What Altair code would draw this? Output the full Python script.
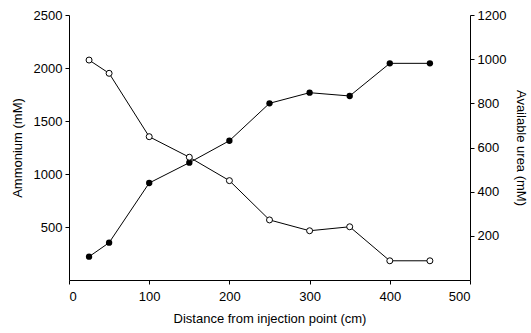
import altair as alt
import pandas as pd

distance = [25, 50, 100, 150, 200, 250, 300, 350, 400, 450]
ammonium = [220, 352, 915, 1107, 1314, 1667, 1767, 1736, 2044, 2044]
urea = [996, 936, 649, 556, 450, 272, 223, 241, 87, 87]

x_ticks = [0, 100, 200, 300, 400, 500]
left_ticks = [500, 1000, 1500, 2000, 2500]
right_ticks = [200, 400, 600, 800, 1000, 1200]

df = pd.DataFrame({"distance": distance, "ammonium": ammonium, "urea": urea})

FONT = "Liberation Sans"
FS = 13

common = dict(
    grid=False, format="d", domainColor="black", tickColor="black", tickSize=4,
    labelFontSize=FS, titleFontSize=FS, labelFont=FONT, titleFont=FONT,
    titleFontWeight="normal", labelColor="black", titleColor="black",
)

x_enc = alt.X(
    "distance:Q",
    scale=alt.Scale(domain=[0, 500], nice=False, zero=False),
    axis=alt.Axis(values=x_ticks, title="Distance from injection point (cm)",
                  labelPadding=6, titlePadding=9, **common),
)

base = alt.Chart(df)

amm_line = base.mark_line(color="black", strokeWidth=1).encode(
    x=x_enc,
    y=alt.Y(
        "ammonium:Q",
        scale=alt.Scale(domain=[0, 2500], nice=False),
        axis=alt.Axis(orient="left", values=left_ticks, title="Ammonium (mM)",
                      labelPadding=3, titlePadding=9, **common),
    ),
)
amm_pts = base.mark_point(filled=True, color="black", size=40, opacity=1).encode(
    x="distance:Q", y="ammonium:Q"
)

urea_line = base.mark_line(color="black", strokeWidth=1).encode(
    x="distance:Q",
    y=alt.Y(
        "urea:Q",
        scale=alt.Scale(domain=[0, 1200], nice=False),
        axis=alt.Axis(orient="right", values=right_ticks, title="Available urea (mM)",
                      labelPadding=3, titlePadding=8, **common),
    ),
)
urea_pts = base.mark_point(filled=True, fill="white", stroke="black", strokeWidth=1,
                           size=36, opacity=1).encode(x="distance:Q", y="urea:Q")

left = alt.layer(amm_line, amm_pts)
right = alt.layer(urea_line, urea_pts)

chart = (
    alt.layer(left, right)
    .resolve_scale(y="independent")
    .properties(
        width=401, height=265,
        autosize=alt.AutoSizeParams(type="none"),
        padding={"left": 69, "top": 15, "right": 61, "bottom": 53},
        background="white",
    )
    .configure_view(stroke=None)
)

chart.save("out.html", embed_options={"renderer": "svg", "actions": False})
